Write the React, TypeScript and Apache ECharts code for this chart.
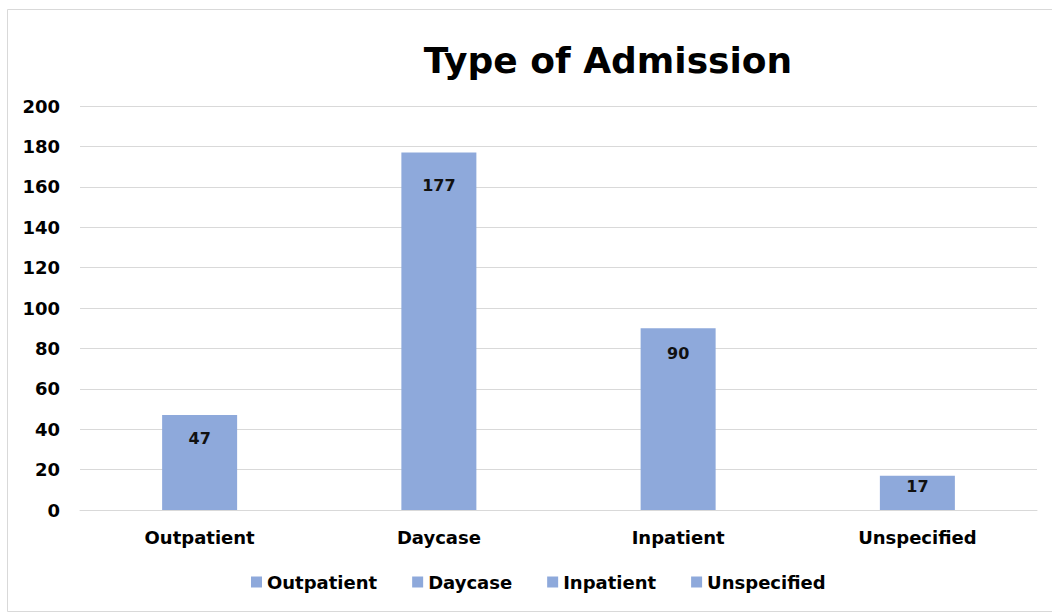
import React, { useEffect, useRef } from "react";
import * as echarts from "echarts";

const categories = ["Outpatient", "Daycase", "Inpatient", "Unspecified"];
const values = [47, 177, 90, 17];
const yTicks = { min: 0, max: 200, interval: 20 };
const title = "Type of Admission";
const barColor = "#8EA9DB";
const labelDistances = [15, 25, 17, 3];

export default function App() {
  const ref = useRef<HTMLDivElement>(null);
  useEffect(() => {
    if (!ref.current) return;
    const chart = echarts.init(ref.current, undefined, { renderer: "svg" });
    const font = "'DejaVu Sans', Verdana, sans-serif";
    const series = categories.map((name, i) => ({
      name,
      type: "bar",
      stack: "all",
      barWidth: 75,
      itemStyle: { color: barColor },
      data: categories.map((_, j) => (j === i ? values[i] : null)),
      label: {
        show: true,
        position: "insideTop",
        distance: labelDistances[i],
        color: "#111",
        fontFamily: font,
        fontWeight: "bold",
        fontSize: 16,
      },
    }));
    chart.setOption({
      animation: false,
      backgroundColor: "#fff",
      title: {
        text: title,
        left: 603,
        textAlign: "center",
        top: 37,
        textStyle: { fontFamily: font, fontWeight: "bold", fontSize: 36, color: "#000" },
      },
      graphic: [
        {
          type: "rect",
          shape: { x: 7.5, y: 9.5, width: 1060, height: 602 },
          style: { fill: "none", stroke: "#d9d9d9", lineWidth: 1 },
          silent: true,
        },
      ],
      legend: {
        data: categories,
        top: 568,
        left: 246,
        itemWidth: 11,
        itemHeight: 11,
        itemGap: 35,
        icon: "rect",
        textStyle: { fontFamily: font, fontWeight: "bold", fontSize: 18, color: "#000" },
      },
      grid: { left: 80, right: 15, top: 106, bottom: 105 },
      xAxis: {
        type: "category",
        data: categories,
        axisTick: { show: false },
        axisLine: { lineStyle: { color: "#d9d9d9" } },
        axisLabel: {
          fontFamily: font,
          fontWeight: "bold",
          fontSize: 18,
          color: "#000",
          margin: 18,
        },
      },
      yAxis: {
        type: "value",
        min: yTicks.min,
        max: yTicks.max,
        interval: yTicks.interval,
        splitLine: { lineStyle: { color: "#d9d9d9" } },
        axisLabel: {
          fontFamily: font,
          fontWeight: "bold",
          fontSize: 18,
          color: "#000",
          margin: 20,
        },
      },
      series,
    });
    return () => chart.dispose();
  }, []);
  return (
    <div
      ref={ref}
      style={{ position: "fixed", left: 0, top: 0, width: 1052, height: 615, background: "#fff" }}
    />
  );
}
